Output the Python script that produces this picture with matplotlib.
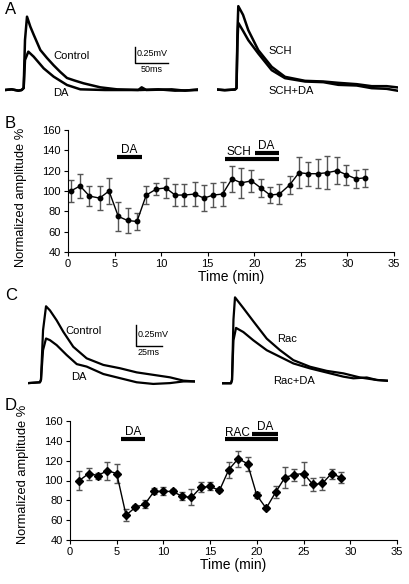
import numpy as np
import matplotlib
matplotlib.use("Agg")
import matplotlib.pyplot as plt

plt.rcParams["font.family"] = ["Liberation Sans", "DejaVu Sans"]

W, H = 409, 584

# --- panel A traces (ms, mV) ---
a_ctl_t = [0, 10, 20, 25, 28, 30, 33, 38, 43, 53, 63, 73, 83, 93, 105, 118, 143, 168, 203, 230, 255, 290]
a_ctl_v = [0, 0.01, -0.01, 0, 0.03, 0.75, 1.10, 0.95, 0.83, 0.60, 0.48, 0.37, 0.27, 0.18, 0.14, 0.10, 0.04, 0.01, 0.0, 0.01, -0.01, 0.0]
a_da_t = [0, 10, 20, 25, 28, 30, 35, 43, 58, 73, 93, 113, 150, 200, 205, 212, 250, 270, 290]
a_da_v = [0, 0.01, -0.01, 0, 0.03, 0.45, 0.575, 0.50, 0.325, 0.20, 0.075, 0.01, 0.0, 0.0, 0.04, 0.0, 0.01, -0.01, 0.01]
a_sch_t = [0, 12, 27.5, 29.7, 31.2, 32.4, 39.5, 47.4, 62.4, 82.5, 102.5, 132.5, 160, 182.4, 210, 232.5, 255, 272.4]
a_sch_v = [0, -0.01, 0, 0.02, 0.89, 1.25, 1.12, 0.89, 0.59, 0.34, 0.19, 0.13, 0.12, 0.10, 0.08, 0.05, 0.05, 0.03]
a_schda_t = [0, 12, 27.5, 29.7, 31.2, 32.4, 39.5, 47.4, 62.4, 82.5, 102.5, 132.5, 160, 182.4, 210, 232.5, 255, 272.4]
a_schda_v = [0, -0.01, 0, 0.02, 0.74, 1.00, 0.88, 0.74, 0.54, 0.29, 0.17, 0.12, 0.11, 0.07, 0.06, 0.02, 0.01, -0.02]

# --- panel C traces (ms, mV) ---
c_ctl_t = [0, 11.3, 12.3, 14.3, 17.2, 21.0, 27.5, 34.0, 43.6, 56.6, 72.8, 88.9, 105.1, 121.2, 137.4, 150.4, 161.7]
c_ctl_v = [-0.01, 0, 0.03, 0.63, 0.92, 0.87, 0.75, 0.61, 0.43, 0.29, 0.21, 0.17, 0.12, 0.09, 0.06, 0.02, 0.01]
c_da_t = [0, 11.3, 12.3, 14.3, 17.2, 21.0, 27.5, 37.2, 47.0, 56.6, 72.8, 88.9, 105.1, 121.2, 137.4, 150.4, 161.7]
c_da_v = [-0.01, 0, 0.03, 0.39, 0.53, 0.51, 0.45, 0.33, 0.22, 0.19, 0.10, 0.05, 0.0, -0.02, -0.01, 0.01, 0.01]
c_rac_t = [0, 9.0, 10.0, 11.4, 12.9, 21.0, 30.7, 43.7, 56.6, 69.5, 85.7, 101.9, 118.0, 134.2, 150.4, 161.6]
c_rac_v = [0, 0, 0.04, 0.77, 1.04, 0.91, 0.75, 0.54, 0.40, 0.28, 0.20, 0.15, 0.12, 0.07, 0.04, 0.03]
c_racda_t = [0, 9.0, 10.0, 11.4, 13.9, 21.0, 30.7, 43.7, 56.6, 69.5, 85.7, 101.9, 118.0, 127.7, 140.7, 150.4, 161.6]
c_racda_v = [0, 0, 0.04, 0.52, 0.67, 0.62, 0.52, 0.40, 0.32, 0.24, 0.18, 0.13, 0.08, 0.06, 0.07, 0.04, 0.03]

# --- panel B time course ---
b_time = [0.3, 1.3, 2.3, 3.4, 4.4, 5.4, 6.4, 7.4, 8.4, 9.5, 10.5, 11.5, 12.5, 13.6, 14.6, 15.6,
          16.6, 17.6, 18.6, 19.7, 20.7, 21.7, 22.7, 23.8, 24.8, 25.8, 26.8, 27.8, 28.9, 29.9, 30.9, 31.9]
b_amp = [100, 105, 95, 93, 100, 75, 71, 70, 96, 102, 103, 96, 96, 97, 93, 96,
         97, 112, 108, 110, 103, 96, 97, 106, 118, 117, 117, 118, 120, 116, 112, 113]
b_err = [11, 12, 10, 12, 13, 14, 12, 8, 9, 6, 10, 11, 11, 12, 13, 12,
         12, 13, 15, 11, 9, 8, 10, 9, 15, 12, 14, 16, 13, 10, 9, 9]
b_bar_start = [5.3, 16.9, 20.1]
b_bar_end = [7.9, 22.6, 22.6]
b_bar_level = [133, 131.5, 137]
b_bar_text = ["DA", "SCH", "DA"]
b_text_x = [6.6, 18.3, 21.3]
b_text_y = [140, 138.5, 144]

# --- panel D time course ---
d_time = list(range(1, 30))
d_amp = [100, 107, 105, 110, 107, 65, 73, 76, 89, 89, 89, 84, 83, 93, 94, 90,
         111, 122, 117, 85, 72, 88, 103, 106, 107, 96, 97, 107, 103]
d_err = [10, 6, 3, 9, 10, 6, 2, 4, 3, 4, 2, 4, 8, 5, 4, 2,
         8, 8, 7, 3, 1, 6, 11, 6, 12, 7, 7, 5, 6]
d_bar_start = [5.5, 16.6, 19.5]
d_bar_end = [8.0, 22.3, 22.3]
d_bar_level = [142, 142, 147]
d_bar_text = ["DA", "RAC", "DA"]
d_text_x = [6.8, 17.9, 20.9]
d_text_y = [149, 147.5, 153.5]


def px_rect(l, t, w, h):
    return [l / W, 1 - (t + h) / H, w / W, h / H]


def trace_ax(fig, rect, xlim, ylim):
    ax = fig.add_axes(px_rect(*rect))
    ax.set_xlim(*xlim)
    ax.set_ylim(*ylim)
    ax.axis("off")
    return ax


def course_ax(fig, rect, t, amp, err, bs, be, bl, btxt, tx, ty, lab_y, mk, msz):
    ax = fig.add_axes(px_rect(*rect))
    ax.errorbar(t, amp, yerr=err, color="black", lw=1.0, marker=mk, ms=msz,
                ecolor="#555555", elinewidth=1.0, capsize=2.2, capthick=1.0)
    for i in range(len(bs)):
        ax.plot([bs[i], be[i]], [bl[i], bl[i]], color="black", lw=3, solid_capstyle="butt")
        ax.text(tx[i], ty[i], btxt[i], ha="center", va="center", fontsize=8.5)
    ax.set_xlim(0, 35)
    ax.set_ylim(40, 160)
    ax.set_xticks(range(0, 36, 5))
    ax.set_yticks(range(40, 161, 20))
    ax.spines["top"].set_visible(False)
    ax.spines["right"].set_visible(False)
    ax.tick_params(direction="out", length=3, labelsize=8, pad=2)
    ax.set_xlabel("Time (min)", fontsize=10, labelpad=1)
    ax.set_ylabel("Normalized amplitude %", fontsize=9.3)
    ax.yaxis.set_label_coords(-0.125, lab_y)
    return ax


fig = plt.figure(figsize=(W / 100, H / 100), dpi=100)

# Panel A
ax = trace_ax(fig, (5, 0, 193, 100), (0, 289.5), (-0.15, 1.35))
ax.plot(a_ctl_t, a_ctl_v, color="black", lw=1.8)
ax.plot(a_da_t, a_da_v, color="black", lw=1.8)
ax.text(72, 0.51, "Control", fontsize=8, va="center")
ax.text(72, -0.045, "DA", fontsize=8, va="center")
ax.plot([195, 195, 245], [0.65, 0.40, 0.40], color="black", lw=1)
ax.text(198, 0.555, "0.25mV", fontsize=6.5, va="center")
ax.text(220, 0.30, "50ms", fontsize=6.5, va="center", ha="center")

ax = trace_ax(fig, (216.7, 0, 181.6, 100), (0, 272.4), (-0.1575, 1.3425))
ax.plot(a_sch_t, a_sch_v, color="black", lw=1.8)
ax.plot(a_schda_t, a_schda_v, color="black", lw=1.8)
ax.text(77, 0.58, "SCH", fontsize=8, va="center")
ax.text(77, -0.02, "SCH+DA", fontsize=8, va="center")

# Panel C
ax = trace_ax(fig, (28.3, 290, 166.7, 105), (0, 161.7), (-0.154, 1.117))
ax.plot(c_ctl_t, c_ctl_v, color="black", lw=1.6)
ax.plot(c_da_t, c_da_v, color="black", lw=1.6)
ax.text(35.6, 0.615, "Control", fontsize=8, va="center")
ax.text(42, 0.06, "DA", fontsize=8, va="center")
ax.plot([104.5, 104.5, 129.4], [0.693, 0.443, 0.443], color="black", lw=1)
ax.text(106.4, 0.58, "0.25mV", fontsize=6.5, va="center")
ax.text(116.4, 0.363, "25ms", fontsize=6.5, va="center", ha="center")

ax = trace_ax(fig, (221.7, 290, 166.6, 105), (0, 161.6), (-0.142, 1.129))
ax.plot(c_rac_t, c_rac_v, color="black", lw=1.6)
ax.plot(c_racda_t, c_racda_v, color="black", lw=1.6)
ax.text(53.4, 0.536, "Rac", fontsize=8, va="center")
ax.text(50, 0.03, "Rac+DA", fontsize=8, va="center")

# Panels B and D
course_ax(fig, (68, 130, 326, 122), b_time, b_amp, b_err, b_bar_start, b_bar_end,
          b_bar_level, b_bar_text, b_text_x, b_text_y, 0.45, "o", 3.2)
course_ax(fig, (70, 421, 327, 119), d_time, d_amp, d_err, d_bar_start, d_bar_end,
          d_bar_level, d_bar_text, d_text_x, d_text_y, 0.55, "D", 4.2)

# panel letters
for lx, ly, s in [(11, 10, "A"), (10, 124, "B"), (11, 295, "C"), (11, 406, "D")]:
    fig.text(lx / W, 1 - ly / H, s, fontsize=12, ha="center", va="center")

fig.savefig("out.png", dpi=100)
